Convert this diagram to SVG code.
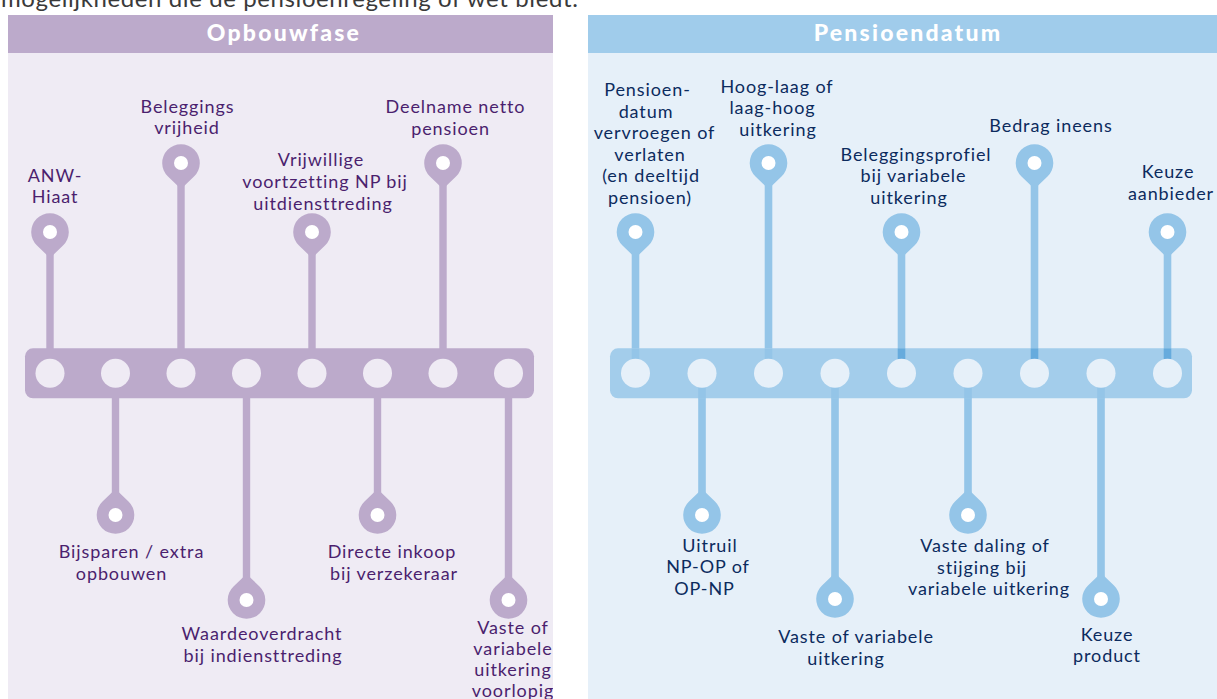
<svg xmlns="http://www.w3.org/2000/svg" xmlns:xlink="http://www.w3.org/1999/xlink" width="1217" height="699" viewBox="0 0 1217 699">
<style>
.intro{font-family:Lato,"Liberation Sans",sans-serif;font-size:24px;fill:#3a3a3a;letter-spacing:0.6px}
.title{font-family:Lato,"Liberation Sans",sans-serif;font-size:23px;font-weight:900;fill:#ffffff;text-anchor:middle;letter-spacing:2.2px}
.tl{font-family:Lato,"Liberation Sans",sans-serif;font-size:18px;fill:#4b1f6e;text-anchor:middle;letter-spacing:0.9px}
.tr{font-family:Lato,"Liberation Sans",sans-serif;font-size:18px;fill:#0c2b5e;text-anchor:middle;letter-spacing:0.9px}
.pl{fill:#bcaacb}
.pr{fill:#94c5e8}
.dot{fill:#ffffff}
.sl{stroke:#bcaacb;stroke-width:7.4;fill:none}
.sr{stroke:#94c5e8;stroke-width:7.6;fill:none}
.hl{fill:#efebf4}
.hr{fill:#e6f0f9}
</style>
<defs>
<path id="pinD" d="M-13 13.6 A18.8 18.8 0 1 1 13 13.6 L0 26 Z"/>
<path id="pinU" d="M-13 -13.6 A18.8 18.8 0 1 0 13 -13.6 L0 -26 Z"/>
<clipPath id="clipL"><rect x="8" y="15" width="545" height="684"/></clipPath>
</defs>
<rect width="1217" height="699" fill="#ffffff"/>
<text class="intro" x="1" y="7">mogelijkheden die de pensioenregeling of  wet biedt.</text>

<g id="panel-opbouwfase">
<rect x="8" y="15" width="545" height="684" fill="#efebf4"/>
<rect x="8" y="15" width="545" height="38" fill="#bcaacb"/>
<text class="title" x="284" y="41">Opbouwfase</text>
</g>
<g id="panel-pensioendatum">
<rect x="588" y="15" width="629" height="684" fill="#e6f0f9"/>
<rect x="588" y="15" width="629" height="38" fill="#a0cceb"/>
<text class="title" x="908" y="41">Pensioendatum</text>
</g>

<g id="connectors">
<line class="sl" x1="50" y1="232" x2="50" y2="352"/>
<line class="sl" x1="181" y1="163" x2="181" y2="352"/>
<line class="sl" x1="312" y1="232" x2="312" y2="352"/>
<line class="sl" x1="443" y1="163" x2="443" y2="352"/>
<line class="sl" x1="115.5" y1="395" x2="115.5" y2="515"/>
<line class="sl" x1="246.5" y1="395" x2="246.5" y2="600"/>
<line class="sl" x1="377.5" y1="395" x2="377.5" y2="515"/>
<line class="sl" x1="508.5" y1="395" x2="508.5" y2="600"/>
<line class="sr" x1="635.5" y1="232" x2="635.5" y2="348"/>
<line class="sr" x1="768.5" y1="163" x2="768.5" y2="348"/>
<line class="sr" x1="901.5" y1="232" x2="901.5" y2="348"/>
<line class="sr" x1="1034.5" y1="163" x2="1034.5" y2="348"/>
<line class="sr" x1="1167.5" y1="232" x2="1167.5" y2="348"/>
<line class="sr" x1="702" y1="398" x2="702" y2="515"/>
<line class="sr" x1="835" y1="398" x2="835" y2="599"/>
<line class="sr" x1="968" y1="398" x2="968" y2="515"/>
<line class="sr" x1="1101" y1="398" x2="1101" y2="599"/>
</g>

<g id="bar-opbouwfase">
<rect x="25" y="348.3" width="509" height="50" rx="8" fill="#bcaacb"/>
<circle class="hl" cx="50" cy="373.3" r="14.5"/>
<circle class="hl" cx="115.5" cy="373.3" r="14.5"/>
<circle class="hl" cx="181" cy="373.3" r="14.5"/>
<circle class="hl" cx="246.5" cy="373.3" r="14.5"/>
<circle class="hl" cx="312" cy="373.3" r="14.5"/>
<circle class="hl" cx="377.5" cy="373.3" r="14.5"/>
<circle class="hl" cx="443" cy="373.3" r="14.5"/>
<circle class="hl" cx="508.5" cy="373.3" r="14.5"/>
</g>

<g id="bar-pensioendatum">
<rect x="610" y="348.3" width="582" height="50" rx="8" fill="#a3cdeb"/>
<rect x="631.7" y="348.3" width="7.6" height="11" fill="#94c5e8"/>
<rect x="764.7" y="348.3" width="7.6" height="11" fill="#94c5e8"/>
<rect x="897.7" y="348.3" width="7.6" height="11" fill="#66abdd"/>
<rect x="1030.7" y="348.3" width="7.6" height="11" fill="#66abdd"/>
<rect x="1163.7" y="348.3" width="7.6" height="11" fill="#66abdd"/>
<rect x="698.2" y="387" width="7.6" height="11.3" fill="#94c5e8"/>
<rect x="831.2" y="387" width="7.6" height="11.3" fill="#94c5e8"/>
<rect x="964.2" y="387" width="7.6" height="11.3" fill="#94c5e8"/>
<rect x="1097.2" y="387" width="7.6" height="11.3" fill="#94c5e8"/>
<circle class="hr" cx="635.5" cy="373.3" r="14.5"/>
<circle class="hr" cx="702" cy="373.3" r="14.5"/>
<circle class="hr" cx="768.5" cy="373.3" r="14.5"/>
<circle class="hr" cx="835" cy="373.3" r="14.5"/>
<circle class="hr" cx="901.5" cy="373.3" r="14.5"/>
<circle class="hr" cx="968" cy="373.3" r="14.5"/>
<circle class="hr" cx="1034.5" cy="373.3" r="14.5"/>
<circle class="hr" cx="1101" cy="373.3" r="14.5"/>
<circle class="hr" cx="1167.5" cy="373.3" r="14.5"/>
</g>

<g id="anw-hiaat">
<use xlink:href="#pinD" href="#pinD" class="pl" x="50" y="232"/>
<circle class="dot" cx="50" cy="232" r="7"/>
<text class="tl" x="55" y="182">ANW-</text>
<text class="tl" x="55" y="203">Hiaat</text>
</g>
<g id="beleggingsvrijheid">
<use xlink:href="#pinD" href="#pinD" class="pl" x="181" y="163"/>
<circle class="dot" cx="181" cy="163" r="7"/>
<text class="tl" x="187.5" y="112.5">Beleggings</text>
<text class="tl" x="187" y="134">vrijheid</text>
</g>
<g id="vrijwillige-voortzetting">
<use xlink:href="#pinD" href="#pinD" class="pl" x="312" y="232"/>
<circle class="dot" cx="312" cy="232" r="7"/>
<text class="tl" x="321" y="166">Vrijwillige</text>
<text class="tl" x="325" y="188">voortzetting NP bij</text>
<text class="tl" x="323" y="209.5">uitdiensttreding</text>
</g>
<g id="deelname-netto">
<use xlink:href="#pinD" href="#pinD" class="pl" x="443" y="163"/>
<circle class="dot" cx="443" cy="163" r="7"/>
<text class="tl" x="455.5" y="113">Deelname netto</text>
<text class="tl" x="450.5" y="134.5">pensioen</text>
</g>
<g id="bijsparen">
<use xlink:href="#pinU" href="#pinU" class="pl" x="115.5" y="515"/>
<circle class="dot" cx="115.5" cy="515" r="7"/>
<text class="tl" x="131.5" y="558">Bijsparen / extra</text>
<text class="tl" x="121.5" y="579.5">opbouwen</text>
</g>
<g id="waardeoverdracht">
<use xlink:href="#pinU" href="#pinU" class="pl" x="246.5" y="600"/>
<circle class="dot" cx="246.5" cy="600" r="7"/>
<text class="tl" x="262" y="640">Waardeoverdracht</text>
<text class="tl" x="263" y="661.5">bij indiensttreding</text>
</g>
<g id="directe-inkoop">
<use xlink:href="#pinU" href="#pinU" class="pl" x="377.5" y="515"/>
<circle class="dot" cx="377.5" cy="515" r="7"/>
<text class="tl" x="392" y="558">Directe inkoop</text>
<text class="tl" x="394" y="579.5">bij verzekeraar</text>
</g>
<g id="vaste-variabele-voorlopig">
<use xlink:href="#pinU" href="#pinU" class="pl" x="508.5" y="600"/>
<circle class="dot" cx="508.5" cy="600" r="7"/>
<g clip-path="url(#clipL)">
<text class="tl" x="513" y="634">Vaste of</text>
<text class="tl" x="513" y="655">variabele</text>
<text class="tl" x="513" y="676">uitkering</text>
<text class="tl" x="513" y="697">voorlopig</text>
</g>
</g>

<g id="pensioendatum-vervroegen">
<use xlink:href="#pinD" href="#pinD" class="pr" x="635.5" y="232"/>
<circle class="dot" cx="635.5" cy="232" r="7"/>
<text class="tr" x="647.5" y="96">Pensioen-</text>
<text class="tr" x="646" y="117.5">datum</text>
<text class="tr" x="654.5" y="139">vervroegen of</text>
<text class="tr" x="650" y="160.5">verlaten</text>
<text class="tr" x="651" y="182">(en deeltijd</text>
<text class="tr" x="650" y="203.5">pensioen)</text>
</g>
<g id="hoog-laag">
<use xlink:href="#pinD" href="#pinD" class="pr" x="768.5" y="163"/>
<circle class="dot" cx="768.5" cy="163" r="7"/>
<text class="tr" x="777" y="92.7">Hoog-laag of</text>
<text class="tr" x="772.5" y="114">laag-hoog</text>
<text class="tr" x="778" y="135.5">uitkering</text>
</g>
<g id="beleggingsprofiel">
<use xlink:href="#pinD" href="#pinD" class="pr" x="901.5" y="232"/>
<circle class="dot" cx="901.5" cy="232" r="7"/>
<text class="tr" x="916" y="160.5">Beleggingsprofiel</text>
<text class="tr" x="913.5" y="182">bij variabele</text>
<text class="tr" x="909" y="203.5">uitkering</text>
</g>
<g id="bedrag-ineens">
<use xlink:href="#pinD" href="#pinD" class="pr" x="1034.5" y="163"/>
<circle class="dot" cx="1034.5" cy="163" r="7"/>
<text class="tr" x="1051" y="131.7">Bedrag ineens</text>
</g>
<g id="keuze-aanbieder">
<use xlink:href="#pinD" href="#pinD" class="pr" x="1167.5" y="232"/>
<circle class="dot" cx="1167.5" cy="232" r="7"/>
<text class="tr" x="1168" y="178">Keuze</text>
<text class="tr" x="1171" y="199.5">aanbieder</text>
</g>
<g id="uitruil">
<use xlink:href="#pinU" href="#pinU" class="pr" x="702" y="515"/>
<circle class="dot" cx="702" cy="515" r="7"/>
<text class="tr" x="710" y="551.7">Uitruil</text>
<text class="tr" x="708" y="573">NP-OP of</text>
<text class="tr" x="704.5" y="595">OP-NP</text>
</g>
<g id="vaste-of-variabele">
<use xlink:href="#pinU" href="#pinU" class="pr" x="835" y="599"/>
<circle class="dot" cx="835" cy="599" r="7"/>
<text class="tr" x="856" y="643">Vaste of variabele</text>
<text class="tr" x="846" y="664.5">uitkering</text>
</g>
<g id="vaste-daling">
<use xlink:href="#pinU" href="#pinU" class="pr" x="968" y="515"/>
<circle class="dot" cx="968" cy="515" r="7"/>
<text class="tr" x="985" y="552">Vaste daling of</text>
<text class="tr" x="982" y="573.5">stijging bij</text>
<text class="tr" x="989" y="595">variabele uitkering</text>
</g>
<g id="keuze-product">
<use xlink:href="#pinU" href="#pinU" class="pr" x="1101" y="599"/>
<circle class="dot" cx="1101" cy="599" r="7"/>
<text class="tr" x="1107" y="640.5">Keuze</text>
<text class="tr" x="1107" y="661.5">product</text>
</g>
</svg>
